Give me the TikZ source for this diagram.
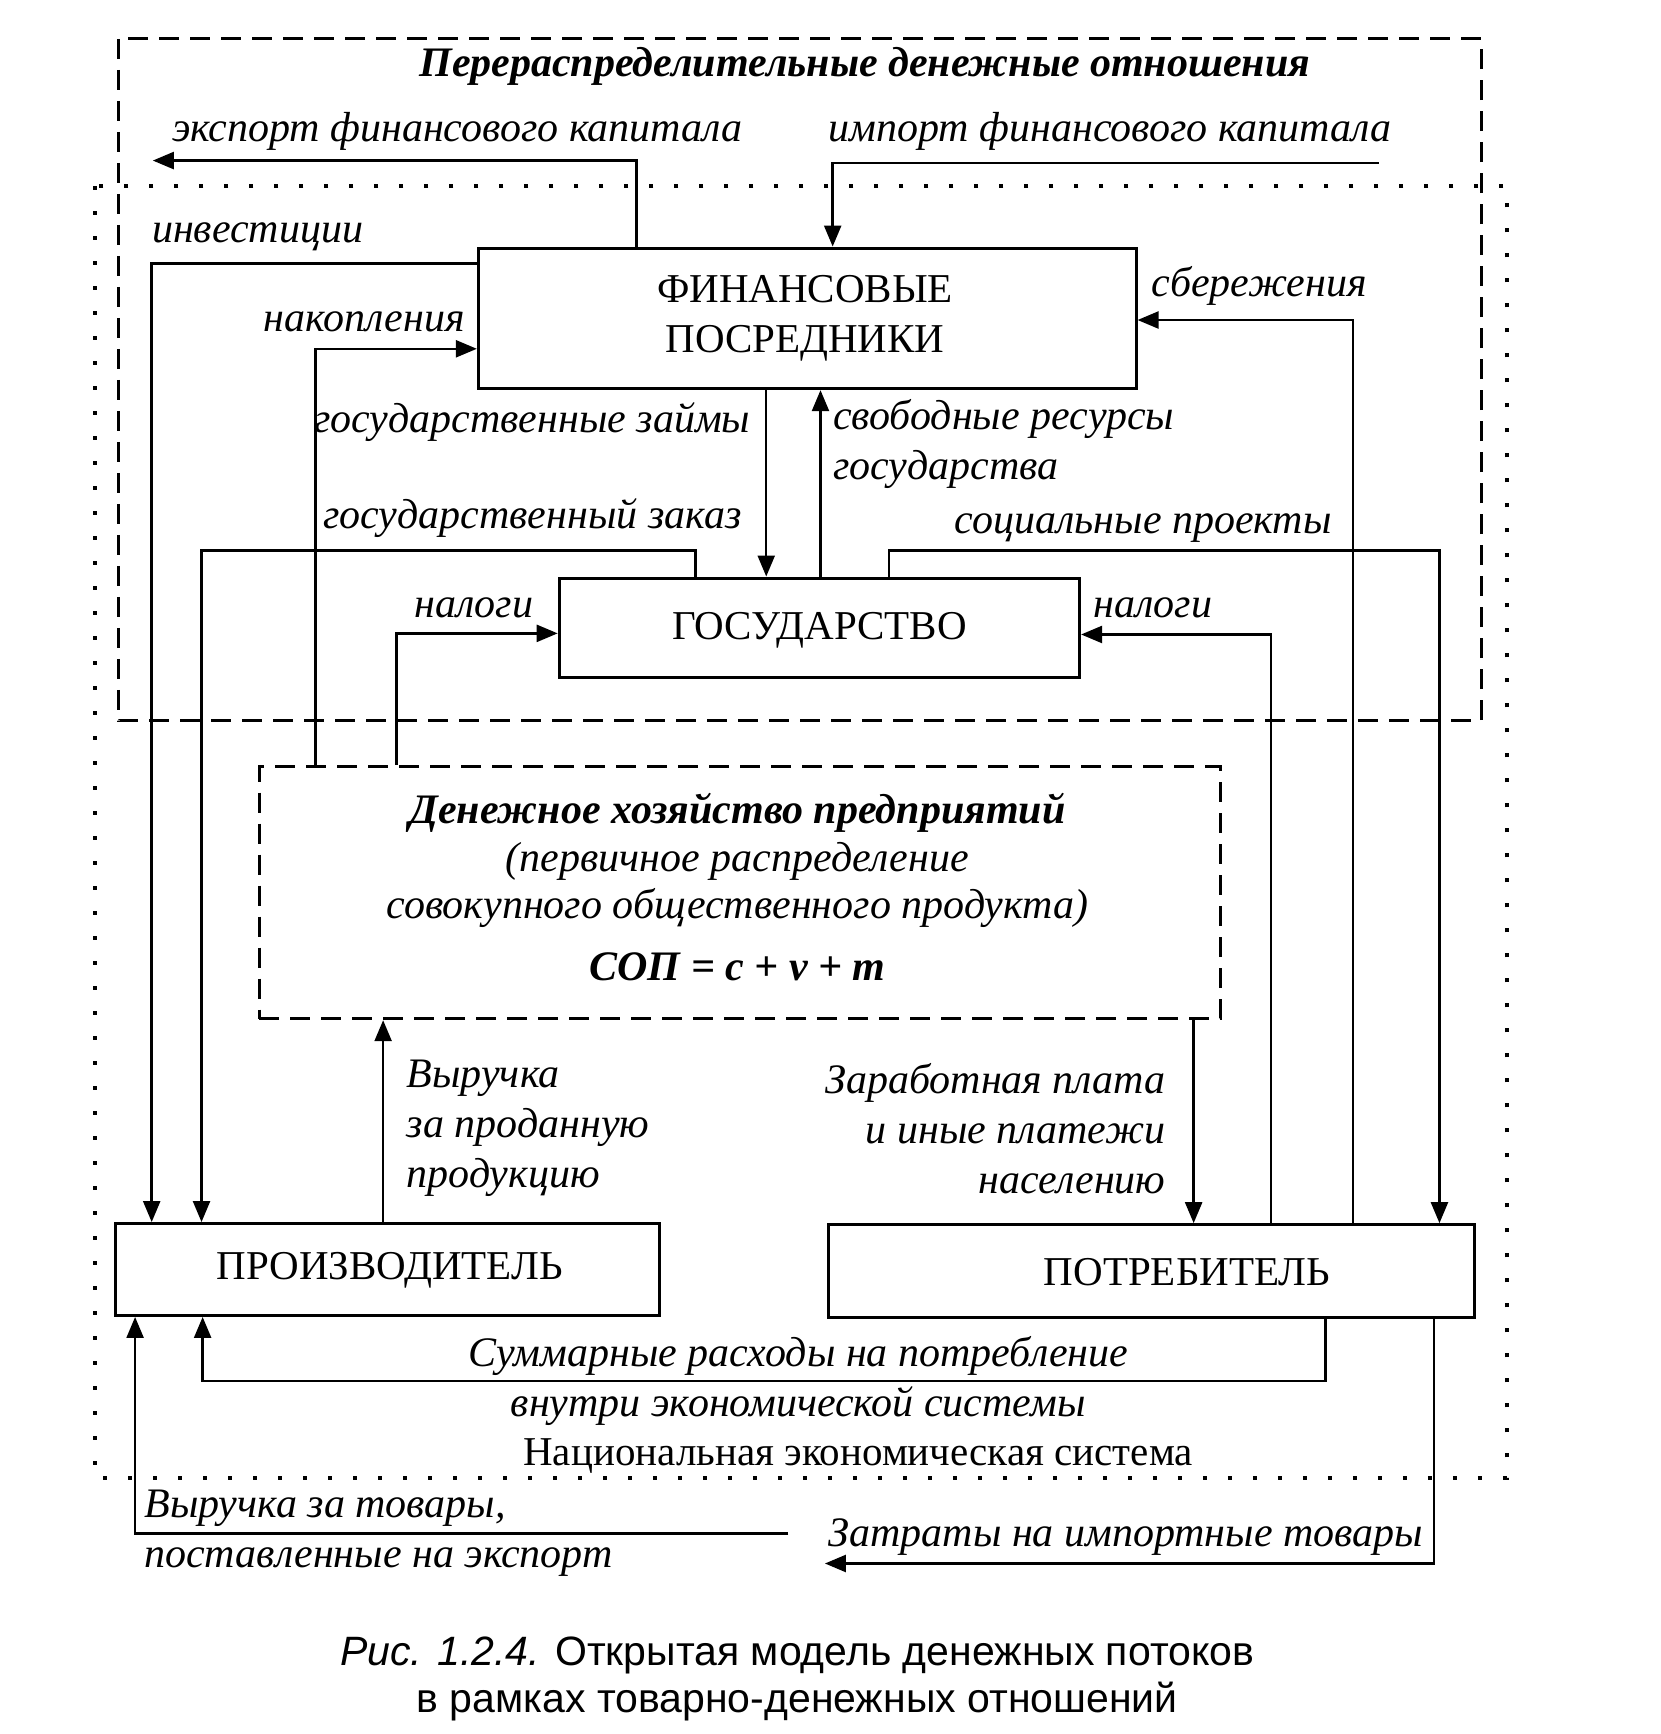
\documentclass[tikz,border=0pt]{standalone}
\usepackage{fontspec}
\setmainfont{Liberation Serif}
\newfontfamily\capfont{Liberation Sans}
\usetikzlibrary{arrows.meta,fit}
\begin{document}
\begin{tikzpicture}[x=0.55365pt,y=-0.55365pt,
 box/.style={draw, line width=1.5pt, inner sep=0pt},
 btxt/.style={inner sep=0pt, font=\fontsize{20.5}{25}\selectfont, align=center},
 lbl/.style={font=\fontsize{21}{25}\selectfont\itshape, inner sep=0pt},
 arr/.style={line width=1.2pt, -{Triangle[length=10.5pt,width=8.5pt]}},
 dashfr/.style={line width=1.5pt, dash pattern=on 10pt off 5.5pt},
 dotfr/.style={line width=2.2pt, dash pattern=on 2.2pt off 10.3pt},
]
\useasboundingbox (0,0) rectangle (1500,1566);
% frames
\draw[dashfr] (107,35) rectangle (1338,651);
\draw[dotfr] (86,168) rectangle (1361,1335);
% boxes
\node[box, fit={(432,224) (1026,351)}] (fp) {};
\node[box, fit={(505,522) (975,612)}] (gs) {};
\node[box, dashfr, fit={(234,692) (1102,920)}] (dh) {};
\node[box, fit={(104,1105) (596,1188)}] (pr) {};
\node[box, fit={(748,1106) (1332,1190)}] (po) {};
% box texts
\node[btxt] (fpt) at (727,287) {ФИНАНСОВЫЕ\\ПОСРЕДНИКИ};
\node[btxt] (gst) at (740,569) {ГОСУДАРСТВО};
\node[btxt, align=center, font=\fontsize{21}{23.8}\selectfont\itshape] (dht) at (666,801)
 {\textbf{Денежное хозяйство предприятий}\\(первичное распределение\\совокупного общественного продукта)\\[7pt]\textbf{СОП = c + v + m}};
\node[btxt] (prt) at (352,1147) {ПРОИЗВОДИТЕЛЬ};
\node[btxt] (pot) at (1072,1149) {ПОТРЕБИТЕЛЬ};
% coordinates
\coordinate (ex1) at (575,145); \coordinate (ex2) at (138,145);
\coordinate (im0) at (1245,147); \coordinate (im1) at (752,147);
\coordinate (in1) at (137,238);
\coordinate (nk1) at (285,315);
\coordinate (sb1) at (1222,289);
\coordinate (zm) at (692,400);
\coordinate (sv) at (741,400);
\coordinate (gz1) at (628,497); \coordinate (gz2) at (182,497);
\coordinate (sp1) at (803,497); \coordinate (sp2) at (1300,497);
\coordinate (nl1) at (358,572);
\coordinate (nr1) at (1148,573);
\coordinate (vr) at (346,1000);
\coordinate (zp) at (1078,1000);
\coordinate (sr1) at (1197,1247); \coordinate (sr2) at (183,1247);
\coordinate (ev0) at (712,1385); \coordinate (ev1) at (122,1385);
\coordinate (it1) at (1295,1412); \coordinate (it2) at (745,1412);
% connectors
\draw[arr] (fp.north -| ex1) -- (ex1) -- (ex2);
\draw[arr] (im0) -- (im1) -- (fp.north -| im1);
\draw[arr] (fp.west |- in1) -- (in1) -- (pr.north -| in1);
\draw[arr] (dh.north -| nk1) -- (nk1) -- (fp.west |- nk1);
\draw[arr] (po.north -| sb1) -- (sb1) -- (fp.east |- sb1);
\draw[arr] (fp.south -| zm) -- (gs.north -| zm);
\draw[arr] (gs.north -| sv) -- (fp.south -| sv);
\draw[arr] (gs.north -| gz1) -- (gz1) -- (gz2) -- (pr.north -| gz2);
\draw[arr] (gs.north -| sp1) -- (sp1) -- (sp2) -- (po.north -| sp2);
\draw[arr] (dh.north -| nl1) -- (nl1) -- (gs.west |- nl1);
\draw[arr] (po.north -| nr1) -- (nr1) -- (gs.east |- nr1);
\draw[arr] (pr.north -| vr) -- (dh.south -| vr);
\draw[arr] (dh.south -| zp) -- (po.north -| zp);
\draw[arr] (po.south -| sr1) -- (sr1) -- (sr2) -- (pr.south -| sr2);
\draw[arr] (ev0) -- (ev1) -- (pr.south -| ev1);
\draw[arr] (po.south -| it1) -- (it1) -- (it2);
% labels
\node[lbl, font=\fontsize{21}{25}\selectfont\bfseries\itshape] (t0) at (781,60) {Перераспределительные денежные отношения};
\node[lbl, anchor=west] (t1) at (155,119) {экспорт финансового капитала};
\node[lbl, anchor=west] (t2) at (748,119) {импорт финансового капитала};
\node[lbl, anchor=west] (t3) at (137,214) {инвестиции};
\node[lbl, anchor=east] (t4) at (420,291) {накопления};
\node[lbl, anchor=west] (t5) at (1040,258) {сбережения};
\node[lbl, anchor=east] (t6) at (678,381) {государственные займы};
\node[lbl, anchor=west, align=left] (t7) at (752,401) {свободные ресурсы\\государства};
\node[lbl, anchor=east] (t8) at (670,468) {государственный заказ};
\node[lbl, anchor=east] (t9) at (1203,477) {социальные проекты};
\node[lbl, anchor=east] (t10) at (482,549) {налоги};
\node[lbl, anchor=west] (t11) at (987,549) {налоги};
\node[lbl, anchor=west, align=left] (t12) at (367,1019) {Выручка\\за проданную\\продукцию};
\node[lbl, anchor=east, align=right] (t13) at (1053,1019) {Заработная плата\\и иные платежи\\населению};
\node[lbl, align=center] (t14) at (721,1247) {Суммарные расходы на потребление\\внутри экономической системы};
\node[inner sep=0pt, font=\fontsize{20.5}{24}\selectfont] (t15) at (775,1315) {Национальная экономическая система};
\node[lbl, anchor=west, align=left] (t16) at (130,1385) {Выручка за товары,\\поставленные на экспорт};
\node[lbl, anchor=west] (t17) at (748,1388) {Затраты на импортные товары};
\node[inner sep=0pt, align=center, font=\capfont\fontsize{20.5}{23.6}\selectfont] (cap) at (720,1516)
 {\textit{Рис. 1.2.4.} Открытая модель денежных потоков\\в рамках товарно-денежных отношений};
\end{tikzpicture}
\end{document}
